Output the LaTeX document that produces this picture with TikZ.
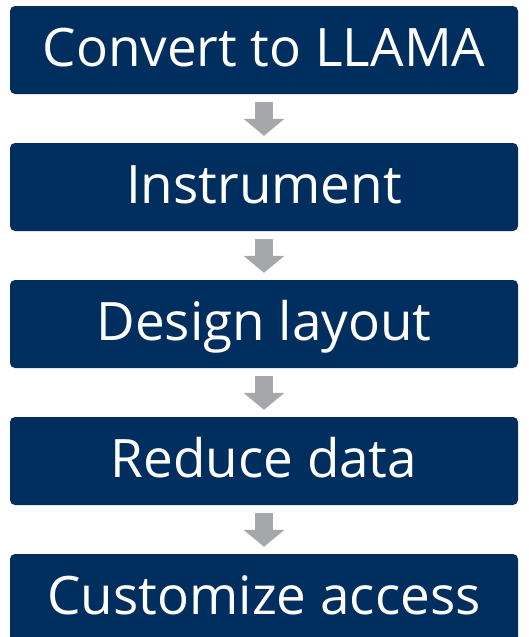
\documentclass[tikz,border=0pt]{standalone}
\usepackage{fontspec}
\setmainfont{Open Sans}
\usepackage{tikz}
\usetikzlibrary{arrows.meta}

\definecolor{navy}{HTML}{002F5F}
\definecolor{arrowgray}{HTML}{A5A7AB}

\begin{document}
\begin{tikzpicture}[x=1pt, y=-1pt,
  every node/.style={rectangle, rounded corners=5pt, fill=navy, text=white,
    minimum width=508pt, minimum height=88pt, inner sep=0pt,
    text height=44pt, text depth=10.6pt, font=\fontsize{53}{62}\selectfont},
  flow/.style={draw=arrowgray, line width=18pt, shorten <=8pt, shorten >=7pt,
    -{Triangle[width=40pt, length=17pt]}}]

\useasboundingbox (0,0) rectangle (528,637);
\clip (0,0) rectangle (528,637);

\node (convert) at (264,50) {Convert to LLAMA};
\node (instr) at (264,187) {Instrument};
\node (layout) at (264,324) {Design layout};
\node (reduce) at (264,461) {Reduce data};
\node (access) at (264,598) {Customize access};

% frecce
\draw[flow] (convert) -- (instr);
\draw[flow] (instr) -- (layout);
\draw[flow] (layout) -- (reduce);
\draw[flow] (reduce) -- (access);

\end{tikzpicture}
\end{document}
